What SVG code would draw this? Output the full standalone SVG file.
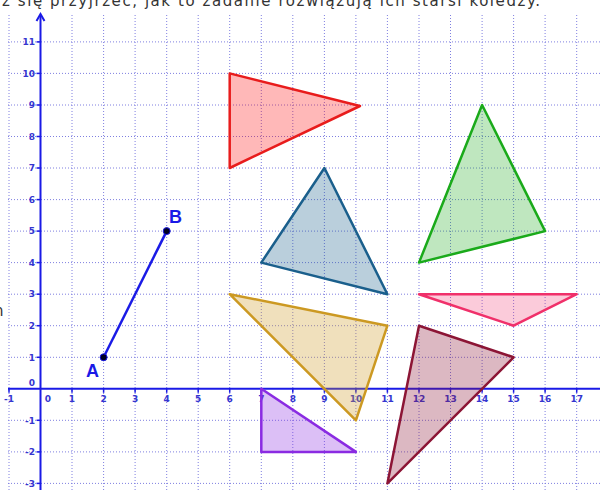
<svg xmlns="http://www.w3.org/2000/svg" width="600" height="490" viewBox="0 0 600 490">
<style>
.grid line{stroke:#7f7fe0;stroke-width:1;stroke-dasharray:1 2}
.axis{stroke:#1a1ae6;stroke-width:2;fill:none}
.tick{stroke:#1a1ae6;stroke-width:1.5}
.lbl{font-family:"DejaVu Sans",Verdana,sans-serif;font-size:9px;fill:#3535d0;font-weight:bold}
.yl{text-anchor:end}
.xl{text-anchor:middle}
.tri{stroke-width:2.5;stroke-linejoin:round}
.pt{font-family:"Liberation Sans",Arial,sans-serif;font-size:18px;font-weight:bold;fill:#1a1ae6}
.top{font-family:"DejaVu Sans",Verdana,sans-serif;font-size:15px;fill:#333}
</style>
<rect width="600" height="490" fill="#fff"/>
<text class="top" x="2" y="6" textLength="538" lengthAdjust="spacing">z się przyjrzeć, jak to zadanie rozwiązują ich starsi koledzy.</text>
<text class="top" x="-6" y="316">n</text>
<g class="grid">
<line x1="9" y1="15" x2="9" y2="490"/>
<line x1="72" y1="15" x2="72" y2="490"/>
<line x1="103.6" y1="15" x2="103.6" y2="490"/>
<line x1="135.1" y1="15" x2="135.1" y2="490"/>
<line x1="166.7" y1="15" x2="166.7" y2="490"/>
<line x1="198.2" y1="15" x2="198.2" y2="490"/>
<line x1="229.7" y1="15" x2="229.7" y2="490"/>
<line x1="261.3" y1="15" x2="261.3" y2="490"/>
<line x1="292.8" y1="15" x2="292.8" y2="490"/>
<line x1="324.4" y1="15" x2="324.4" y2="490"/>
<line x1="355.9" y1="15" x2="355.9" y2="490"/>
<line x1="387.4" y1="15" x2="387.4" y2="490"/>
<line x1="419" y1="15" x2="419" y2="490"/>
<line x1="450.5" y1="15" x2="450.5" y2="490"/>
<line x1="482.1" y1="15" x2="482.1" y2="490"/>
<line x1="513.6" y1="15" x2="513.6" y2="490"/>
<line x1="545.1" y1="15" x2="545.1" y2="490"/>
<line x1="576.7" y1="15" x2="576.7" y2="490"/>
<line x1="8" y1="41.9" x2="600" y2="41.9"/>
<line x1="8" y1="73.4" x2="600" y2="73.4"/>
<line x1="8" y1="105" x2="600" y2="105"/>
<line x1="8" y1="136.5" x2="600" y2="136.5"/>
<line x1="8" y1="168" x2="600" y2="168"/>
<line x1="8" y1="199.6" x2="600" y2="199.6"/>
<line x1="8" y1="231.1" x2="600" y2="231.1"/>
<line x1="8" y1="262.6" x2="600" y2="262.6"/>
<line x1="8" y1="294.2" x2="600" y2="294.2"/>
<line x1="8" y1="325.7" x2="600" y2="325.7"/>
<line x1="8" y1="357.3" x2="600" y2="357.3"/>
<line x1="8" y1="420.3" x2="600" y2="420.3"/>
<line x1="8" y1="451.9" x2="600" y2="451.9"/>
<line x1="8" y1="483.4" x2="600" y2="483.4"/>
</g>
<g id="axes">
<line class="axis" x1="40.5" y1="16" x2="40.5" y2="490"/>
<line class="axis" x1="8" y1="388.8" x2="600" y2="388.8"/>
<path d="M36.5 21 L40.5 14 L44.5 21" class="axis" stroke-width="1.8"/>
<g class="tick">
<line x1="36.5" y1="41.9" x2="40.5" y2="41.9"/><line x1="36.5" y1="73.4" x2="40.5" y2="73.4"/><line x1="36.5" y1="105" x2="40.5" y2="105"/><line x1="36.5" y1="136.5" x2="40.5" y2="136.5"/><line x1="36.5" y1="168" x2="40.5" y2="168"/><line x1="36.5" y1="199.6" x2="40.5" y2="199.6"/><line x1="36.5" y1="231.1" x2="40.5" y2="231.1"/><line x1="36.5" y1="262.6" x2="40.5" y2="262.6"/><line x1="36.5" y1="294.2" x2="40.5" y2="294.2"/><line x1="36.5" y1="325.7" x2="40.5" y2="325.7"/><line x1="36.5" y1="357.3" x2="40.5" y2="357.3"/><line x1="36.5" y1="420.3" x2="40.5" y2="420.3"/><line x1="36.5" y1="451.9" x2="40.5" y2="451.9"/><line x1="36.5" y1="483.4" x2="40.5" y2="483.4"/>
<line x1="9" y1="388.8" x2="9" y2="392.8"/><line x1="72" y1="388.8" x2="72" y2="392.8"/><line x1="103.6" y1="388.8" x2="103.6" y2="392.8"/><line x1="135.1" y1="388.8" x2="135.1" y2="392.8"/><line x1="166.7" y1="388.8" x2="166.7" y2="392.8"/><line x1="198.2" y1="388.8" x2="198.2" y2="392.8"/><line x1="229.7" y1="388.8" x2="229.7" y2="392.8"/><line x1="261.3" y1="388.8" x2="261.3" y2="392.8"/><line x1="292.8" y1="388.8" x2="292.8" y2="392.8"/><line x1="324.4" y1="388.8" x2="324.4" y2="392.8"/><line x1="355.9" y1="388.8" x2="355.9" y2="392.8"/><line x1="387.4" y1="388.8" x2="387.4" y2="392.8"/><line x1="419" y1="388.8" x2="419" y2="392.8"/><line x1="450.5" y1="388.8" x2="450.5" y2="392.8"/><line x1="482.1" y1="388.8" x2="482.1" y2="392.8"/><line x1="513.6" y1="388.8" x2="513.6" y2="392.8"/><line x1="545.1" y1="388.8" x2="545.1" y2="392.8"/><line x1="576.7" y1="388.8" x2="576.7" y2="392.8"/>
</g>
<g class="lbl yl">
<text x="35" y="45">11</text><text x="35" y="76.5">10</text><text x="35" y="108">9</text><text x="35" y="139.5">8</text><text x="35" y="171">7</text><text x="35" y="202.5">6</text><text x="35" y="234">5</text><text x="35" y="265.5">4</text><text x="35" y="297">3</text><text x="35" y="328.5">2</text><text x="35" y="360.5">1</text><text x="35" y="386">0</text><text x="35" y="423.5">-1</text><text x="35" y="455">-2</text><text x="35" y="486.5">-3</text>
</g>
<g class="lbl xl">
<text x="9" y="402">-1</text><text x="48" y="402">0</text><text x="72" y="402">1</text><text x="103.6" y="402">2</text><text x="135.1" y="402">3</text><text x="166.7" y="402">4</text><text x="198.2" y="402">5</text><text x="229.7" y="402">6</text><text x="261.3" y="402">7</text><text x="292.8" y="402">8</text><text x="324.4" y="402">9</text><text x="355.9" y="402">10</text><text x="387.4" y="402">11</text><text x="419" y="402">12</text><text x="450.5" y="402">13</text><text x="482.1" y="402">14</text><text x="513.6" y="402">15</text><text x="545.1" y="402">16</text><text x="576.7" y="402">17</text>
</g>
</g>
<g id="tri-red"><polygon class="tri" points="229.7,73.4 360,106 229.7,168" fill="#ff0000" fill-opacity="0.28" stroke="#e81c1c"/></g>
<g id="tri-blue"><polygon class="tri" points="324.4,168 261.3,262.6 387.4,294.2" fill="#1a5f8c" fill-opacity="0.3" stroke="#1a5f8c"/></g>
<g id="tri-green"><polygon class="tri" points="482.1,105 419,262.6 545.1,231.1" fill="#1aaa1a" fill-opacity="0.28" stroke="#1aaa1a"/></g>
<g id="tri-gold"><polygon class="tri" points="229.7,294.2 387.4,325.7 355.9,420.3" fill="#cc9922" fill-opacity="0.3" stroke="#cc9922"/></g>
<g id="tri-pink"><polygon class="tri" points="419,294.2 576.7,294.2 513.6,325.7" fill="#f0306a" fill-opacity="0.25" stroke="#f0306a"/></g>
<g id="tri-maroon"><polygon class="tri" points="419,325.7 513.6,357.3 387.4,483.4" fill="#8c1535" fill-opacity="0.3" stroke="#8c1535"/></g>
<g id="tri-purple"><polygon class="tri" points="261.3,388.8 261.3,451.9 355.9,451.9" fill="#8a2be2" fill-opacity="0.3" stroke="#8a2be2"/></g>
<g id="connectors"><line x1="103.6" y1="357.3" x2="166.7" y2="231.1" stroke="#1a1ae6" stroke-width="2.5"/></g>
<g id="A"><circle cx="103.6" cy="357.3" r="3.5" fill="#000022" stroke="#1a1ae6" stroke-width="1"/><text class="pt" x="86" y="377">A</text></g>
<g id="B"><circle cx="166.7" cy="231.1" r="3.5" fill="#000022" stroke="#1a1ae6" stroke-width="1"/><text class="pt" x="169" y="223">B</text></g>
</svg>
